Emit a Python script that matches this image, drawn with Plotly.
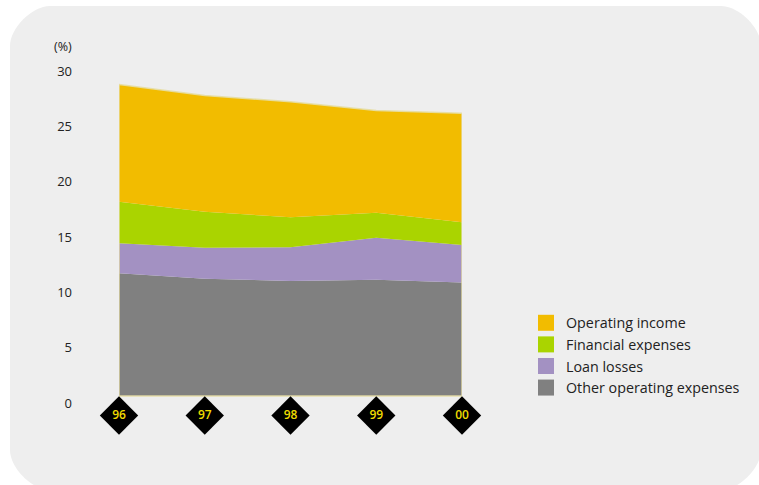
import plotly.graph_objects as go

years = ["96", "97", "98", "99", "00"]
other_operating = [11.1, 10.6, 10.4, 10.5, 10.25]
loan_losses = [2.7, 2.8, 3.05, 3.8, 3.4]
financial_expenses = [3.75, 3.25, 2.7, 2.25, 2.05]
operating_income = [10.6, 10.5, 10.45, 9.25, 9.85]
y_ticks = [0, 5, 10, 15, 20, 25, 30]

series = [
    ("Other operating expenses", other_operating, "#808080"),
    ("Loan losses", loan_losses, "#a391c2"),
    ("Financial expenses", financial_expenses, "#aad400"),
    ("Operating income", operating_income, "#f2bc00"),
]

W, H = 759, 485
L, R, T, Y0 = 119, 462, 64, 396      # Y0: pixel row of value 0
B = 445                              # bottom of plot area (room for diamonds)
UNIT = (Y0 - T) / 30.0               # pixels per unit
YMIN = -(B - Y0) / UNIT
FONT = "Open Sans"

fig = go.Figure()
for name, vals, col in series:
    fig.add_trace(go.Scatter(
        x=years, y=vals, name=name, stackgroup="one", mode="none",
        fillcolor=col, line=dict(width=0), showlegend=False, hoverinfo="skip"))

# pale outline around the stacked area
totals = [sum(v) for v in zip(other_operating, loan_losses, financial_expenses, operating_income)]
fig.add_trace(go.Scatter(
    x=years + [years[-1], years[0], years[0]],
    y=totals + [0, 0, totals[0]],
    mode="lines", line=dict(color="rgba(230,222,165,0.9)", width=1.5),
    showlegend=False, hoverinfo="skip", cliponaxis=False))

# diamond year markers
diamond_y = [-19.5 / UNIT] * len(years)
fig.add_trace(go.Scatter(
    x=years, y=diamond_y, mode="markers+text", text=years,
    textposition="middle center",
    textfont=dict(family=FONT, size=12, color="#f0dc00", weight=600),
    marker=dict(symbol="diamond", size=29.5, color="#000000"),
    showlegend=False, hoverinfo="skip", cliponaxis=False))

# legend entries (top to bottom)
for name, vals, col in reversed(series):
    fig.add_trace(go.Scatter(
        x=[None], y=[None], mode="markers", name=name,
        marker=dict(symbol="square", size=17, color=col)))

def px(x):
    return (x - L) / (R - L)

def py(y):
    return (B - y) / (B - T)

# rounded background panel
x0, x1, y0, y1, r = 10, 761, 6, 490, 40
k = 0.45 * r
path = (
    f"M{px(x0 + r)},{py(y0)} L{px(x1 - r)},{py(y0)} "
    f"C{px(x1 - r + k)},{py(y0)} {px(x1)},{py(y0 + r - k)} {px(x1)},{py(y0 + r)} "
    f"L{px(x1)},{py(y1 - r)} "
    f"C{px(x1)},{py(y1 - r + k)} {px(x1 - r + k)},{py(y1)} {px(x1 - r)},{py(y1)} "
    f"L{px(x0 + r)},{py(y1)} "
    f"C{px(x0 + r - k)},{py(y1)} {px(x0)},{py(y1 - r + k)} {px(x0)},{py(y1 - r)} "
    f"L{px(x0)},{py(y0 + r)} "
    f"C{px(x0)},{py(y0 + r - k)} {px(x0 + r - k)},{py(y0)} {px(x0 + r)},{py(y0)} Z"
)
fig.add_shape(type="path", path=path, xref="paper", yref="paper",
              fillcolor="#eeeeee", line=dict(width=0), layer="below")

fig.add_annotation(text="(%)", xref="paper", yref="paper",
                   x=px(52), y=py(47), xanchor="left", yanchor="middle",
                   showarrow=False, font=dict(family=FONT, size=12.5, color="#222222"))

fig.update_layout(
    width=W, height=H,
    margin=dict(l=L, r=W - R, t=T, b=H - B),
    paper_bgcolor="#ffffff", plot_bgcolor="rgba(0,0,0,0)",
    font=dict(family=FONT, size=12, color="#222222"),
    xaxis=dict(type="category", range=[0, 4], showgrid=False, zeroline=False,
               showline=False, showticklabels=False, ticks="", fixedrange=True),
    yaxis=dict(range=[YMIN, 30], tickvals=y_ticks, showgrid=False, zeroline=False,
               showline=False, ticks="", ticklabelstandoff=46, ticklabelshift=7,
               tickfont=dict(family=FONT, size=13, color="#222222")),
    legend=dict(x=px(526), y=py(307), xanchor="left", yanchor="top",
                traceorder="normal",
                bgcolor="rgba(0,0,0,0)", font=dict(family=FONT, size=14.3, color="#222222"),
                tracegroupgap=0, itemsizing="trace"),
    showlegend=True,
)

fig.write_html("out.html")
